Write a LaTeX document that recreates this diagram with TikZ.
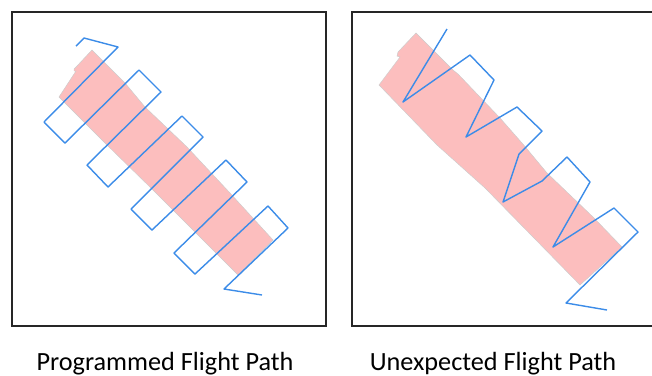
\documentclass[tikz,border=0pt]{standalone}
\usepackage{fontspec}
\setmainfont{Carlito}
\usepackage{xcolor}
\definecolor{zonepink}{RGB}{252,190,190}
\definecolor{trackblue}{RGB}{60,140,232}

\begin{document}
\begin{tikzpicture}[x=0.3mm,y=-0.3mm, every node/.style={font=\fontsize{22.4}{26}\selectfont},
  frame/.style={draw=black!85,line width=1.7pt},
  zone/.style={fill=zonepink,draw=black!20,line width=0.4pt},
  track/.style={draw=trackblue,line width=1.2pt,line join=round},
  caption/.style={inner sep=0pt,anchor=base}]
  \useasboundingbox (0,0) rectangle (652,375);
  % left panel: programmed path
  \draw[frame] (12,12) rectangle (326,326);
  \path[zone] (92,50) -- (77,66) -- (74,69) -- (74,71) -- (76,71) -- (59,97)
    -- (107,145) -- (153,190) -- (238,275) -- (273,240) -- (230,193)
    -- (187,147) -- (145,107) -- (125,83) -- cycle;
  \draw[track] (76,46) -- (84,38) -- (118,47) -- (44,122) -- (65,143)
    -- (139,70) -- (161,92) -- (87,165) -- (108,187) -- (182,116)
    -- (203,137) -- (131,209) -- (152,230) -- (226,160) -- (247,182)
    -- (174,253) -- (195,274) -- (268,206) -- (288,228) -- (224,289)
    -- (262,295);
  % right panel: unexpected path (frame runs off the right edge)
  \draw[frame] (653,12) -- (352,12) -- (352,326) -- (653,326);
  \path[zone] (416,33) -- (398,52) -- (397,56) -- (400,57) -- (379,85)
    -- (437,145) -- (485,188) -- (580,285) -- (622,247) -- (593,217)
    -- (547,173) -- (522,143) -- (500,118) -- (458,74) -- (453,70) -- cycle;
  \draw[track] (447,29) -- (403,102) -- (470,55) -- (494,80) -- (466,137)
    -- (517,107) -- (542,131) -- (519,154) -- (503,202) -- (542,181)
    -- (567,157) -- (590,182) -- (553,247) -- (614,208) -- (638,232)
    -- (566,303) -- (607,310);
  % captions
  \node[caption] (progcap) at (165,370) {Programmed Flight Path};
  \node[caption] (unexcap) at (493,370) {Unexpected Flight Path};
\end{tikzpicture}
\end{document}
